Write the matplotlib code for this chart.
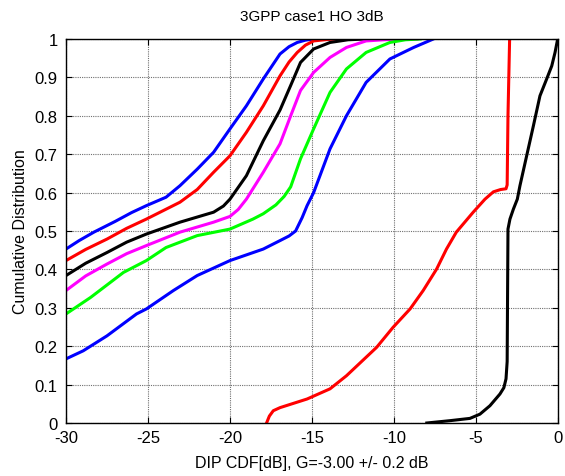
import matplotlib
matplotlib.use("Agg")
import matplotlib.pyplot as plt

plt.rcParams['font.family'] = ['Liberation Sans', 'DejaVu Sans']
plt.rcParams['axes.unicode_minus'] = False

title = "3GPP case1 HO 3dB"
xlabel = "DIP CDF[dB], G=-3.00 +/- 0.2 dB"
ylabel = "Cumulative Distribution"
xticks = [-30, -25, -20, -15, -10, -5, 0]
yticks = [0, 0.1, 0.2, 0.3, 0.4, 0.5, 0.6, 0.7, 0.8, 0.9, 1]
yticklabels = ['0', '0.1', '0.2', '0.3', '0.4', '0.5', '0.6', '0.7', '0.8', '0.9', '1']

blue1_x = [-30, -29.2, -28.3, -27.0, -26.0, -25.1, -23.9, -23.05, -22.0, -21.0, -20.0, -19.0, -17.97, -16.95, -16.4, -15.9, -15.4, -14.9, -14.0]
blue1_y = [0.453, 0.475, 0.497, 0.525, 0.548, 0.566, 0.588, 0.618, 0.661, 0.705, 0.766, 0.826, 0.896, 0.961, 0.980, 0.991, 0.997, 1.0, 1.0]

red1_x = [-30, -28.8, -27.5, -26.3, -25.1, -23.05, -22.0, -21.0, -20.0, -19.0, -17.97, -16.95, -16.4, -15.9, -15.4, -14.9, -14.0, -13.1]
red1_y = [0.423, 0.452, 0.479, 0.507, 0.531, 0.575, 0.608, 0.653, 0.696, 0.757, 0.826, 0.904, 0.940, 0.965, 0.984, 0.995, 0.999, 1.0]

black1_x = [-30, -28.8, -27.5, -26.3, -25.1, -23.05, -21.0, -20.4, -20.0, -19.0, -17.97, -16.95, -16.3, -15.7, -14.9, -13.9, -12.8, -11.7]
black1_y = [0.384, 0.416, 0.444, 0.471, 0.492, 0.523, 0.549, 0.565, 0.583, 0.644, 0.735, 0.815, 0.879, 0.939, 0.974, 0.991, 0.998, 1.0]

mag_x = [-30, -28.8, -27.5, -26.3, -25.1, -23.05, -21.0, -20.0, -19.5, -19.0, -17.97, -16.95, -16.3, -15.7, -14.9, -13.9, -12.9, -11.7, -10.2, -8.6]
mag_y = [0.345, 0.383, 0.414, 0.441, 0.462, 0.497, 0.523, 0.538, 0.556, 0.583, 0.653, 0.727, 0.800, 0.866, 0.913, 0.952, 0.978, 0.995, 0.999, 1.0]

green_x = [-30, -28.5, -26.5, -25.1, -23.9, -22.0, -20.0, -18.6, -17.97, -17.2, -16.7, -16.3, -15.7, -14.9, -13.9, -12.9, -11.7, -10.25, -9.3, -8.4]
green_y = [0.284, 0.327, 0.392, 0.423, 0.457, 0.488, 0.505, 0.531, 0.545, 0.568, 0.590, 0.615, 0.688, 0.766, 0.861, 0.922, 0.965, 0.991, 0.998, 1.0]

blue2_x = [-30, -28.95, -27.5, -25.7, -25.1, -23.45, -22.0, -20.0, -17.97, -16.95, -16.4, -16.0, -15.6, -15.3, -14.9, -13.9, -12.9, -11.7, -10.25, -8.8, -7.6]
blue2_y = [0.167, 0.188, 0.227, 0.284, 0.297, 0.345, 0.384, 0.423, 0.453, 0.475, 0.487, 0.500, 0.535, 0.566, 0.600, 0.714, 0.800, 0.887, 0.948, 0.978, 1.0]

red2_x = [-17.77, -17.6, -17.36, -16.95, -15.3, -13.9, -12.9, -11.06, -10.06, -9.02, -8.22, -7.4, -6.8, -6.2, -5.17, -4.45, -3.94, -3.5, -3.17, -3.1, -3.05, -2.95]
red2_y = [0.0, 0.018, 0.032, 0.040, 0.0625, 0.089, 0.123, 0.197, 0.249, 0.297, 0.345, 0.401, 0.453, 0.497, 0.549, 0.583, 0.602, 0.608, 0.610, 0.62, 0.8, 1.0]

black2_x = [-8.0, -6.6, -5.37, -4.76, -4.15, -3.54, -3.3, -3.17, -3.1, -3.08, -3.05, -2.93, -2.72, -2.48, -2.32, -1.91, -1.5, -1.1, -0.69, -0.38, -0.18, -0.02]
black2_y = [0.0, 0.006, 0.012, 0.023, 0.045, 0.0755, 0.092, 0.115, 0.16, 0.3, 0.505, 0.531, 0.557, 0.583, 0.618, 0.696, 0.774, 0.852, 0.896, 0.93, 0.965, 1.0]

series = [
    (blue1_x, blue1_y, '#0000ff'),
    (red1_x, red1_y, '#ff0000'),
    (black1_x, black1_y, '#000000'),
    (mag_x, mag_y, '#ff00ff'),
    (green_x, green_y, '#00ff00'),
    (blue2_x, blue2_y, '#0000ff'),
    (red2_x, red2_y, '#ff0000'),
    (black2_x, black2_y, '#000000'),
]

fig = plt.figure(figsize=(5.65, 4.77), dpi=100)
ax = fig.add_axes([66/565, 53/477, 492/565, 384/477])
for x, y, c in series:
    ax.plot(x, y, color=c, linewidth=2.2, solid_joinstyle='round')

ax.set_xlim(-30, 0)
ax.set_ylim(0, 1)
ax.set_xticks(xticks)
ax.set_yticks(yticks)
ax.set_yticklabels(yticklabels)
ax.grid(True, color='#707070', linestyle=(0, (1, 1)), linewidth=0.8)
ax.tick_params(direction='in', top=True, right=True, labelsize=12, length=4, width=0.8)
ax.tick_params(axis='x', pad=5)
ax.tick_params(axis='y', pad=6)
for s in ax.spines.values():
    s.set_linewidth(1.0)
ax.set_title(title, fontsize=11, pad=14)
ax.set_xlabel(xlabel, fontsize=11.5, labelpad=7)
ax.set_ylabel(ylabel, fontsize=11.5, labelpad=5)

fig.savefig("out.png", dpi=100)
